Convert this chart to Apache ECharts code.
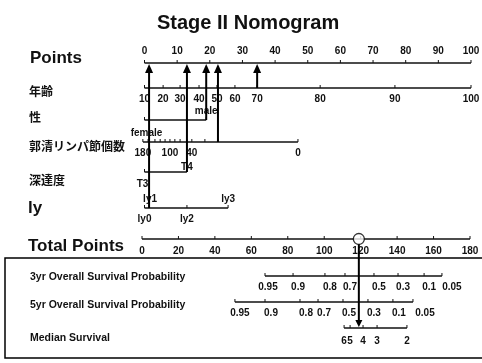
<!DOCTYPE html>
<html><head><meta charset="utf-8">
<script src="https://cdn.jsdelivr.net/npm/echarts@6/dist/echarts.min.js"></script>
<style>html,body{margin:0;padding:0;background:#fff}#c{width:482px;height:363px}</style>
</head><body><div id="c"></div><script>
// ---------------- data ----------------
const pointsTicks = [0,10,20,30,40,50,60,70,80,90,100];
const ageLabels = ['10','20','30','40','50','60','70','80','90','100'];
const agePoints = [0,5.7,10.9,16.7,22.2,27.7,34.5,53.8,76.7,100];
const sexLabels = ['female','male'];
const sexPoints = [0,18.9];
const lymphLabels = ['180','','','','','100','','','','40','','','0'];
const lymphPoints = [-0.5,1.1,3.2,4.8,6.3,7.8,9.3,10.9,13.0,14.5,18.5,22.5,47.0];
const depthLabels = ['T3','T4'];
const depthPoints = [0,13.0];
const lyLabels = ['ly0','ly1','ly2','ly3'];
const lyPoints = [0,1.4,13.0,25.6];
const totalTicks = [0,20,40,60,80,100,120,140,160,180];
const surv3Labels = ['0.95','0.9','0.8','0.7','0.5','0.3','0.1','0.05'];
const surv3Total = [67.5,82.9,100.4,111.4,127.3,140.5,154.8,164.6];
const surv5Labels = ['0.95','0.9','0.8','0.7','0.5','0.3','0.1','0.05'];
const surv5Total = [51.0,67.5,86.7,96.6,110.3,124.0,137.7,148.7];
const medianLabels = ['6','5','4','3','2'];
const medianTotal = [110.9,114.2,121.3,129.0,145.4];
const selectedPoints = [1.4,13.0,18.9,22.5,34.5];
const selectedRows = ['ly','depth','sex','lymph','age'];
const selectedTotal = 119;

// ---------------- layout ----------------
const ROW = {points:63, age:88, sex:120, lymph:142, depth:172, ly:208, total:239, s3:276, s5:302, med:328};
const FONT = '"Liberation Sans", Arial, "Noto Sans CJK JP", sans-serif';
const INK = '#111';

function row(gi, xs, labels, y, labelPos, dx) {
  const line = {
    type:'line', xAxisIndex:gi, yAxisIndex:gi, symbol:'none', silent:true, clip:false,
    lineStyle:{color:INK, width:1.4}, z:2,
    data:[[xs[0], y],[xs[xs.length-1], y]]
  };
  const marks = {
    type:'custom', xAxisIndex:gi, yAxisIndex:gi, silent:true, clip:false, z:3,
    data: xs.map((x,i)=>[x,i]),
    renderItem(params, api) {
      const i = api.value(1);
      const p = api.coord([api.value(0), y]);
      const off = Array.isArray(labelPos) ? labelPos[i] : labelPos;
      const ddx = Array.isArray(dx) ? dx[i] : (dx||0);
      const children = [{type:'line', shape:{x1:p[0], y1:p[1], x2:p[0], y2:p[1]-3}, style:{stroke:INK, lineWidth:1}}];
      if (labels[i]) children.push({type:'text', style:{text:labels[i], x:p[0]+ddx, y:p[1]+off,
        align:'center', verticalAlign:'middle', fontFamily:FONT, fontWeight:'bold', fontSize:10, fill:INK}});
      return {type:'group', children};
    }
  };
  return [line, marks];
}

const series = [];
series.push(...row(0, pointsTicks, pointsTicks.map(String), ROW.points, -12, 0));
series.push(...row(0, agePoints, ageLabels, ROW.age, 11, 0));
series.push(...row(0, sexPoints, sexLabels, ROW.sex, [13,-9], [2,0]));
series.push(...row(0, lymphPoints, lymphLabels, ROW.lymph, 11, 0));
series.push(...row(0, depthPoints, depthLabels, ROW.depth, [12,-5], [-2,0]));
series.push(...row(0, lyPoints, lyLabels, ROW.ly, [11,-9,11,-9], [0,1,0,0]));
series.push(...row(1, totalTicks, totalTicks.map(String), ROW.total, 12, 0));
series.push(...row(1, surv3Total, surv3Labels, ROW.s3, 11, [3,5,5,5,5,5,5,10]));
series.push(...row(1, surv5Total, surv5Labels, ROW.s5, 11, [5,6,6,6,6,6,6,12]));
series.push(...row(1, medianTotal, medianLabels, ROW.med, 13, 0));

// arrows from each variable up to the Points axis
series.push({
  type:'custom', xAxisIndex:0, yAxisIndex:0, silent:true, clip:false, z:5,
  data: selectedPoints.map((x,i)=>[x,i]),
  renderItem(params, api) {
    const i = api.value(1);
    const top = api.coord([api.value(0), ROW.points]);
    const bot = api.coord([api.value(0), ROW[selectedRows[i]]]);
    return {type:'group', children:[
      {type:'line', shape:{x1:bot[0], y1:bot[1], x2:top[0], y2:top[1]+6}, style:{stroke:'#000', lineWidth:2}},
      {type:'polygon', shape:{points:[[top[0]-4,top[1]+10],[top[0]+4,top[1]+10],[top[0],top[1]+1]]}, style:{fill:'#000'}}
    ]};
  }
});
// arrow from total points down to median survival
series.push({
  type:'custom', xAxisIndex:1, yAxisIndex:1, silent:true, clip:false, z:5,
  data:[[selectedTotal]],
  renderItem(params, api) {
    const top = api.coord([api.value(0), ROW.total]);
    const bot = api.coord([api.value(0), ROW.med]);
    return {type:'group', children:[
      {type:'line', shape:{x1:top[0], y1:top[1]+5, x2:bot[0], y2:bot[1]-6}, style:{stroke:'#000', lineWidth:2}},
      {type:'polygon', shape:{points:[[bot[0]-3.5,bot[1]-8],[bot[0]+3.5,bot[1]-8],[bot[0],bot[1]-1]]}, style:{fill:'#000'}}
    ]};
  }
});
series.push({
  type:'scatter', xAxisIndex:1, yAxisIndex:1, silent:true, z:6,
  symbol:'circle', symbolSize:11,
  itemStyle:{color:'#fff', borderColor:'#000', borderWidth:1.3},
  data:[[selectedTotal, ROW.total]]
});

const txt = (t, x, y, size, extra) => ({type:'text', x, y, style:Object.assign({text:t, fontFamily:FONT, fontWeight:'bold', fontSize:size, fill:INK, verticalAlign:'middle'}, extra||{})});

const chart = echarts.init(document.getElementById('c'), null, {renderer:'canvas'});
chart.setOption({
  animation:false,
  backgroundColor:'#fff',
  title:{text:'Stage II Nomogram', left:152, top:8, textStyle:{fontFamily:FONT, fontWeight:'bold', fontSize:20, color:INK}},
  grid:[
    {left:144.5, right:11, top:0, bottom:0},
    {left:142, right:12, top:0, bottom:0}
  ],
  xAxis:[
    {gridIndex:0, type:'value', min:0, max:100, show:false},
    {gridIndex:1, type:'value', min:0, max:180, show:false}
  ],
  yAxis:[
    {gridIndex:0, type:'value', min:0, max:363, inverse:true, show:false},
    {gridIndex:1, type:'value', min:0, max:363, inverse:true, show:false}
  ],
  graphic:[
    txt('Points', 30, 58, 17),
    txt('年齢', 29, 93, 12),
    txt('性', 29, 119, 12),
    txt('郭清リンパ節個数', 29, 148, 12),
    txt('深達度', 29, 182, 12),
    txt('ly', 28, 208, 17),
    txt('Total Points', 28, 246, 17),
    txt('3yr Overall Survival Probability', 30, 277, 10.5),
    txt('5yr Overall Survival Probability', 30, 305, 10.5),
    txt('Median Survival', 30, 338, 10.5),
    {type:'rect', shape:{x:5, y:258, width:490, height:100}, style:{fill:'none', stroke:'#000', lineWidth:1.5}, z:-1}
  ],
  series
});
</script></body></html>
